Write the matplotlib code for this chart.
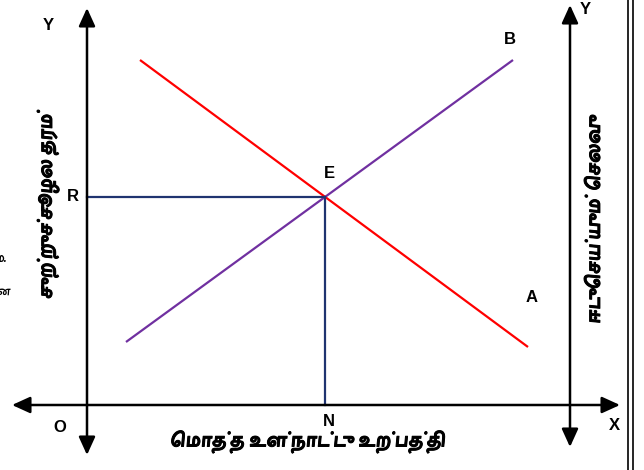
import numpy as np
import matplotlib
matplotlib.use('Agg')
import matplotlib.pyplot as plt
import matplotlib.patheffects as pe
from matplotlib import font_manager
from matplotlib.ft2font import FT2Font

# diagram values, origin O where the axes cross
quality_x = [53, 441]   # red line, from upper left to A
quality_y = [345, 58]
cost_x = [39, 426]      # purple line, up to B
cost_y = [63, 345]

x_label = 'மொத்த உள்நாட்டு உற்பத்தி'
y_label = 'சுற்றுச்சூழல தரம்'
y2_label = 'ஈடுசெய்யும் செலவு'


def find_tamil_font():
    paths = font_manager.findSystemFonts()
    paths.sort(key=lambda p: ('Tamil' not in p, 'Bold' not in p, p))
    for p in paths:
        try:
            if 0x0B95 in FT2Font(p).get_charmap():
                return p
        except Exception:
            pass
    return None


def tamil_visual(s):
    # no text shaping in matplotlib, so move the prefix vowel signs in front
    split = {'\u0BCA': ('\u0BC6', '\u0BBE'), '\u0BCB': ('\u0BC7', '\u0BBE'),
             '\u0BCC': ('\u0BC6', '\u0BD7')}
    out = []
    for ch in s:
        if ch in ('\u0BC6', '\u0BC7', '\u0BC8') and out:
            out.insert(len(out) - 1, ch)
        elif ch in split and out:
            pre, post = split[ch]
            out.insert(len(out) - 1, pre)
            out.append(post)
        else:
            out.append(ch)
    return ''.join(out)


tamil_path = find_tamil_font()
if tamil_path:
    tamil = font_manager.FontProperties(fname=tamil_path, weight='bold', size=14.5)
    tamil_small = font_manager.FontProperties(fname=tamil_path, size=9)
else:
    tamil = font_manager.FontProperties(family='DejaVu Sans', weight='bold', size=14.5)
    tamil_small = font_manager.FontProperties(family='DejaVu Sans', size=9)
heavy = [pe.withStroke(linewidth=0.7, foreground='black')]

plt.rcParams['font.family'] = ['Liberation Sans', 'DejaVu Sans']

fig = plt.figure(figsize=(6.44, 4.7), dpi=100)
ax = fig.add_axes([0, 0, 1, 1])
ax.set_xlim(-87, 557)
ax.set_ylim(-65, 405)
ax.axis('off')

# solve where the two lines meet
a1 = np.polyfit(quality_x, quality_y, 1)
a2 = np.polyfit(cost_x, cost_y, 1)
ex = (a2[1] - a1[1]) / (a1[0] - a2[0])
ey = np.polyval(a1, ex)

ax.plot(quality_x, quality_y, color='#ff0000', lw=1.6, solid_capstyle='butt')
ax.plot(cost_x, cost_y, color='#7030a0', lw=1.6, solid_capstyle='butt')
ax.plot([0, ex], [ey, ey], color='#1f3470', lw=1.6)
ax.plot([ex, ex], [ey, 0], color='#1f3470', lw=1.6)

arrow = dict(arrowstyle='<|-|>,head_length=1.1,head_width=0.5', mutation_scale=10,
             lw=1.8, color='black', shrinkA=0, shrinkB=0)
ax.annotate('', xy=(0, 397), xytext=(0, -50), arrowprops=arrow)
ax.annotate('', xy=(483, 400), xytext=(483, -42), arrowprops=arrow)
ax.annotate('', xy=(533, 0), xytext=(-75, 0), arrowprops=arrow)

# double frame line on the right
ax.axvline(541, color='black', lw=1.2)
ax.axvline(546, color='black', lw=1.2)

lab = dict(fontsize=12, fontweight='bold', ha='center', va='center')
ax.text(-39, 380, 'Y', **lab)
ax.text(498, 396, 'Y', **lab)
ax.text(423, 365, 'B', **lab)
ax.text(ex + 4, ey + 23, 'E', **lab)
ax.text(-14, ey, 'R', **lab)
ax.text(445, 107, 'A', **lab)
ax.text(ex + 4, -16, 'N', **lab)
ax.text(-27, -23, 'O', **lab)
ax.text(527, -21, 'X', **lab)

ax.text(221, -37, tamil_visual(x_label), fontproperties=tamil, ha='center', va='center',
        path_effects=heavy)
ax.text(-39, 200, tamil_visual(y_label), fontproperties=tamil, ha='center', va='center',
        rotation=90, path_effects=heavy)
ax.text(505, 185, tamil_visual(y2_label), fontproperties=tamil, ha='center', va='center',
        rotation=90, path_effects=heavy)

# cut-off text at the left edge of the page
ax.text(-92, 146, 'ம.', fontproperties=tamil_small, ha='left', va='center')
ax.text(-92, 113, 'ன', fontproperties=tamil_small, ha='left', va='center')

fig.savefig('out.png', dpi=100)
